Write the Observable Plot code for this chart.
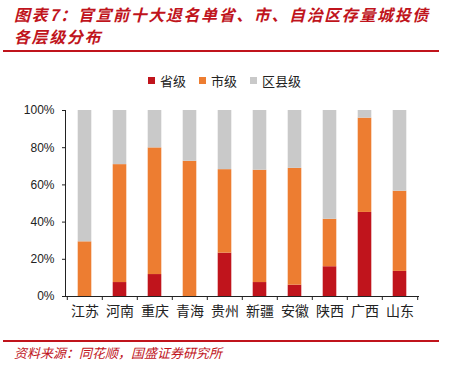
<!DOCTYPE html>
<html><head><meta charset="utf-8">
<script src="https://cdn.jsdelivr.net/npm/d3@7"></script>
<script src="https://cdn.jsdelivr.net/npm/@observablehq/plot@0.6"></script>
<style>
body{margin:0;background:#fff;}
#wrap{position:relative;width:461px;height:369px;overflow:hidden;font-family:"Noto Sans CJK SC",sans-serif;}
#title{position:absolute;left:14px;top:3px;width:445px;font-size:16px;line-height:22px;color:#C0141C;font-style:italic;font-weight:bold;letter-spacing:1.6px;white-space:nowrap;}
.line{position:absolute;left:3px;width:436px;height:2px;background:#C0141C;}
#legend{position:absolute;top:71px;left:148px;font-size:13px;color:#222;display:flex;align-items:center;}
#legend span.sw{display:inline-block;width:7px;height:7px;margin-right:5px;}
#legend span.it{margin-right:13px;display:flex;align-items:center;}
#chart{position:absolute;left:0;top:90px;}
#source{position:absolute;left:14px;top:343px;font-size:13px;color:#C0141C;font-style:italic;}
</style></head>
<body><div id="wrap">
<div id="title">图表7：官宣前十大退名单省、市、自治区存量城投债<br>各层级分布</div>
<div class="line" style="top:50px"></div>
<div id="legend"></div>
<div id="chart"></div>
<div class="line" style="top:340px"></div>
<div id="source">资料来源：同花顺，国盛证券研究所</div>
</div>
<script>
const provinces = ["江苏","河南","重庆","青海","贵州","新疆","安徽","陕西","广西","山东"];
const levels = ["省级","市级","区县级"];
const colors = ["#C0141C","#ED7D31","#C9C9C9"];
const provincial = [0, 7.5, 11.8, 0, 23.3, 7.5, 6.1, 16.0, 45.2, 13.5];
const municipal = [29.4, 63.4, 68.1, 72.7, 44.9, 60.4, 62.8, 25.5, 50.7, 43.1];
const county = provinces.map((p, i) => 100 - provincial[i] - municipal[i]);
const yTicks = [0, 20, 40, 60, 80, 100];

const series = [provincial, municipal, county];
const data = [];
levels.forEach((lv, j) => provinces.forEach((p, i) => data.push({province: p, level: lv, value: series[j][i]})));

// legend
const lg = document.getElementById("legend");
levels.forEach((lv, j) => {
  const it = document.createElement("span"); it.className = "it";
  it.innerHTML = `<span class="sw" style="background:${colors[j]}"></span>${lv}`;
  lg.appendChild(it);
});

const W = 461, H = 240, mL = 65, mR = 42;
const bw = (W - mL - mR) / provinces.length;
const barW = 14;
const inset = (bw - barW) / 2;

const chart = Plot.plot({
  width: W, height: H,
  marginLeft: mL, marginRight: mR, marginTop: 20, marginBottom: 34,
  style: {fontFamily: "'Liberation Sans', Arial, sans-serif", fontSize: "12px", color: "#222", background: "transparent"},
  x: {domain: provinces, padding: 0, label: null, tickSize: 0, tickPadding: 10},
  y: {domain: [0, 100], ticks: yTicks, tickFormat: d => d + "%", label: null, tickSize: 3, tickPadding: 8, line: true},
  color: {domain: levels, range: colors},
  marks: [
    Plot.barY(data, {x: "province", y: "value", fill: "level", insetLeft: inset, insetRight: inset}),
    Plot.ruleY([0], {stroke: "#222"}),
    Plot.ruleX(provinces, {x: d => d, y1: 0, y2: 0, dx: -bw / 2, insetBottom: -4, stroke: "#222"}),
    Plot.ruleX([provinces[provinces.length - 1]], {x: d => d, y1: 0, y2: 0, dx: bw / 2, insetBottom: -4, stroke: "#222"})
  ]
});
document.getElementById("chart").appendChild(chart);
// CJK font for x labels
chart.querySelectorAll("g[aria-label='x-axis'] text, g[aria-label='x-axis tick label'] text").forEach(t => {
  t.style.fontFamily = "'Noto Sans CJK SC', sans-serif"; t.style.fontSize = "14px"; t.setAttribute("fill", "#222");
});
</script>
</body></html>
